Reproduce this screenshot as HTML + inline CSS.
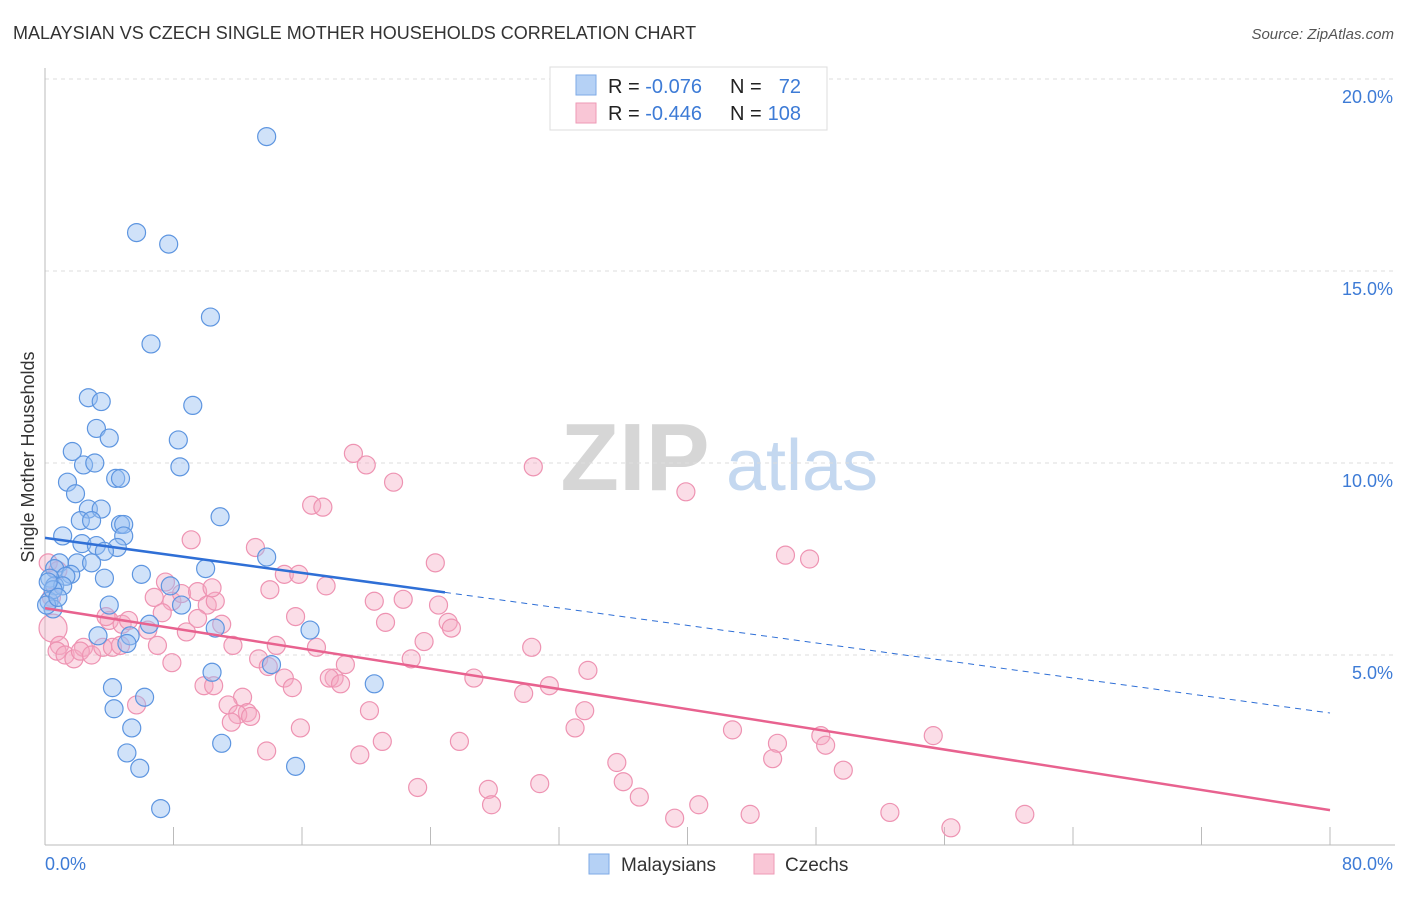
<!DOCTYPE html>
<html><head><meta charset="utf-8">
<style>
body{margin:0;background:#fff;font-family:"Liberation Sans",sans-serif;}
svg text{font-family:"Liberation Sans",sans-serif;}
</style></head>
<body>
<svg id="chart" width="1406" height="892" xmlns="http://www.w3.org/2000/svg">
<text x="13" y="39" font-size="18" fill="#333">MALAYSIAN VS CZECH SINGLE MOTHER HOUSEHOLDS CORRELATION CHART</text>
<text x="1394" y="39" font-size="15" fill="#555" text-anchor="end" font-style="italic">Source: ZipAtlas.com</text>
<text transform="translate(34,457) rotate(-90)" font-size="18" fill="#333" text-anchor="middle">Single Mother Households</text>
<g>
<text x="635" y="490" font-size="96" fill="#d6d6d6" text-anchor="middle" font-family="Liberation Serif, serif" font-weight="bold">ZIP</text>
<text x="802" y="490" font-size="72" fill="#c4d8f0" text-anchor="middle">atlas</text>
</g>
<g id="grid"></g>
<g id="axes"></g>
<g id="pts"></g>
<g id="lines"></g>
<g>
<rect x="550" y="67" width="277" height="63" fill="#fff" stroke="#ddd"/>
<rect x="576" y="75" width="20" height="20" fill="#b5d1f5" stroke="#7eaae6"/>
<rect x="576" y="103" width="20" height="20" fill="#f9c6d6" stroke="#ee9ab6"/>
<text x="608" y="93" font-size="20" fill="#222">R = <tspan fill="#3d7bd6">-0.076</tspan></text>
<text x="730" y="93" font-size="20" fill="#222">N = </text><text x="801" y="93" font-size="20" fill="#3d7bd6" text-anchor="end">72</text>
<text x="608" y="120" font-size="20" fill="#222">R = <tspan fill="#3d7bd6">-0.446</tspan></text>
<text x="730" y="120" font-size="20" fill="#222">N = </text><text x="801" y="120" font-size="20" fill="#3d7bd6" text-anchor="end">108</text>
</g>
<g>
<rect x="589" y="854" width="20" height="20" fill="#b5d1f5" stroke="#7eaae6"/>
<text x="621" y="871" font-size="19" fill="#333">Malaysians</text>
<rect x="754" y="854" width="20" height="20" fill="#f9c6d6" stroke="#ee9ab6"/>
<text x="785" y="871" font-size="19" fill="#333">Czechs</text>
</g>
</svg>
<script>
const xTicks=[0,8,16,24,32,40,48,56,64,72,80];
const yTicks=[5,10,15,20];
const yTickLabels=["5.0%","10.0%","15.0%","20.0%"];
const blueX=[13.8,5.7,7.7,10.3,6.6,2.7,3.5,9.2,3.2,4.0,8.3,1.7,2.4,3.1,8.4,1.4,4.4,4.7,1.9,2.7,3.5,10.9,2.2,2.9,4.7,4.9,1.1,4.9,2.3,3.2,4.5,3.7,13.8,0.9,2.0,2.9,10.0,0.6,1.6,6.0,1.3,0.3,3.7,0.6,1.1,7.8,0.25,4.0,8.5,0.5,6.5,10.6,16.5,3.3,5.3,5.1,10.4,14.1,20.5,4.2,6.2,4.3,5.4,11.0,5.1,5.9,15.6,7.2,0.5,0.1,0.8,0.2];
const blueY=[18.5,16.0,15.7,13.8,13.1,11.7,11.6,11.5,10.9,10.65,10.6,10.3,9.95,10.0,9.9,9.5,9.6,9.6,9.2,8.8,8.8,8.6,8.5,8.5,8.4,8.4,8.1,8.1,7.9,7.85,7.8,7.7,7.55,7.4,7.4,7.4,7.25,7.25,7.1,7.1,7.05,7.0,7.0,6.8,6.8,6.8,6.4,6.3,6.3,6.2,5.8,5.7,5.65,5.5,5.5,5.3,4.55,4.75,4.25,4.15,3.9,3.6,3.1,2.7,2.45,2.05,2.1,1.0,6.7,6.3,6.5,6.9];
const pinkX=[0.5,0.2,0.8,0.4,0.9,0.75,1.25,1.8,2.4,2.2,2.9,3.6,4.2,4.7,4.0,4.8,5.2,3.8,6.4,7.0,7.5,6.8,7.9,8.5,9.5,9.1,10.1,10.6,10.4,7.3,8.8,9.5,11.0,11.7,7.9,9.9,10.5,12.3,11.4,12.6,12.0,12.8,11.6,5.7,13.3,13.9,14.4,14.9,15.4,13.1,14.0,14.9,15.8,15.6,16.9,17.5,15.9,13.8,16.6,17.3,19.2,20.0,21.7,24.3,24.5,20.5,22.3,21.2,23.6,25.1,25.3,22.8,18.7,18.0,17.7,18.4,20.2,21.0,19.6,25.8,26.7,29.8,30.3,31.4,33.8,33.6,33.0,30.4,39.9,46.1,47.6,35.6,36.0,37.0,40.7,39.2,27.6,27.8,30.8,23.2,42.8,45.6,45.3,48.3,48.6,49.7,55.3,52.6,56.4,61.0,43.9];
const pinkY=[5.7,7.4,7.2,6.5,5.25,5.1,5.0,4.9,5.2,5.1,5.0,5.2,5.2,5.25,5.9,5.8,5.9,6.0,5.65,5.25,6.9,6.5,6.4,6.6,6.65,8.0,6.3,6.4,6.75,6.1,5.6,5.95,5.8,5.25,4.8,4.2,4.2,3.9,3.7,3.5,3.45,3.4,3.25,3.7,4.9,4.7,5.25,4.4,4.15,7.8,6.7,7.1,7.1,6.0,5.2,6.8,3.1,2.5,8.9,8.85,10.25,9.95,9.5,7.4,6.3,6.4,6.45,5.85,5.35,5.85,5.7,4.9,4.75,4.4,4.4,4.25,3.55,2.75,2.4,2.75,4.4,4.0,5.2,4.2,4.6,3.55,3.1,9.9,9.25,7.6,7.5,2.2,1.7,1.3,1.1,0.75,1.5,1.1,1.65,1.55,3.05,2.7,2.3,2.9,2.65,2.0,2.9,0.9,0.5,0.85,0.85];
const blueTrend=[8.05,3.49]; const blueSolidEnd=24.9;
const pinkTrend=[6.22,0.96];

const NS="http://www.w3.org/2000/svg";
const X0=45,X1=1330,Y0=847,PXY=38.4;
function sx(v){return X0+(X1-X0)*v/80;}
function sy(v){return Y0-v*PXY;}
function mk(tag,attrs,parent){const e=document.createElementNS(NS,tag);for(const k in attrs)e.setAttribute(k,attrs[k]);document.getElementById(parent).appendChild(e);return e;}

yTicks.forEach((t,i)=>{
  const g=mk('line',{x1:45,x2:1395,y1:sy(t),y2:sy(t),stroke:'#ddd','stroke-dasharray':'4,4'},'grid');
  
  
  const l=mk('text',{x:1393,y:sy(t)+24,'font-size':18,fill:'#3d7bd6','text-anchor':'end'},'grid');
  l.textContent=yTickLabels[i];
  
  
});
const ax=mk('line',{x1:45,x2:1395,y1:845,y2:845,stroke:'#bbb'},'axes');


const ay=mk('line',{x1:45,x2:45,y1:68,y2:845,stroke:'#bbb'},'axes');


xTicks.forEach(t=>{
  const tk=mk('line',{x1:sx(t),x2:sx(t),y1:827,y2:845,stroke:'#bbb'},'axes');
  
  
});
const xl0=mk('text',{x:45,y:870,'font-size':18,fill:'#3d7bd6'},'axes');xl0.textContent='0.0%';


const xl1=mk('text',{x:1393,y:870,'font-size':18,fill:'#3d7bd6','text-anchor':'end'},'axes');xl1.textContent='80.0%';



pinkX.forEach((v,i)=>{
  const c=mk('circle',{cx:sx(v),cy:sy(pinkY[i]),r:i===0?14:9,fill:'rgba(246,170,196,0.4)',stroke:'#ee93b2','stroke-width':1.2},'pts');
  
  
});
blueX.forEach((v,i)=>{
  const c=mk('circle',{cx:sx(v),cy:sy(blueY[i]),r:9,fill:'rgba(150,190,242,0.45)',stroke:'#5d95e0','stroke-width':1.2},'pts');
  
  
});
function ty(tr,x){return tr[0]+(tr[1]-tr[0])*x/80;}
const bl=mk('line',{x1:sx(0),y1:sy(ty(blueTrend,0)),x2:sx(blueSolidEnd),y2:sy(ty(blueTrend,blueSolidEnd)),stroke:'#2f6fd6','stroke-width':2.5},'lines');


const bd=mk('line',{x1:sx(blueSolidEnd),y1:sy(ty(blueTrend,blueSolidEnd)),x2:sx(80),y2:sy(ty(blueTrend,80)),stroke:'#2f6fd6','stroke-width':1,'stroke-dasharray':'6,5'},'lines');


const pl=mk('line',{x1:sx(0),y1:sy(ty(pinkTrend,0)),x2:sx(80),y2:sy(ty(pinkTrend,80)),stroke:'#e8628f','stroke-width':2.5},'lines');


</script>
</body></html>
